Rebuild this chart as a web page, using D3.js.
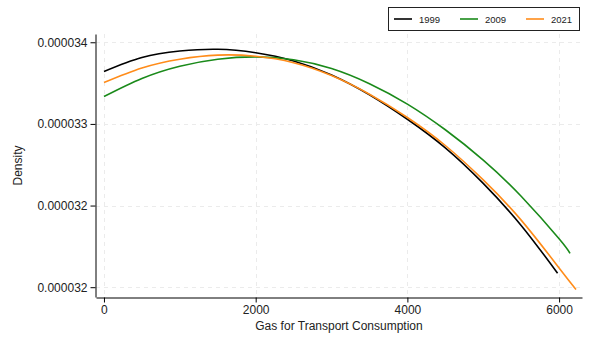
<!DOCTYPE html>
<html>
<head>
<meta charset="utf-8">
<script src="https://cdn.jsdelivr.net/npm/d3@7"></script>
<style>
  html, body { margin: 0; padding: 0; background: #fff; }
  svg { display: block; font-family: "Liberation Sans", Arial, Helvetica, sans-serif; }
</style>
</head>
<body>
<svg id="chart" width="605" height="339"></svg>
<script>
// Kernel density estimates of gas-for-transport consumption, by year
const years = ["1999", "2009", "2021"];
const colors = ["#000000", "#1a8a1a", "#ff8c1a"];

const x1999 = [0, 500, 1000, 1500, 2000, 2500, 3000, 3500, 4000, 4500, 5000, 5500, 5980];
const d1999 = [3.3450e-5, 3.3570e-5, 3.3625e-5, 3.3640e-5, 3.3610e-5, 3.3540e-5, 3.3420e-5,
               3.3250e-5, 3.3040e-5, 3.2795e-5, 3.2490e-5, 3.2130e-5, 3.1720e-5];

const x2009 = [0, 500, 1000, 1500, 2000, 2500, 3000, 3500, 4000, 4500, 5000, 5500, 6000, 6144];
const d2009 = [3.3235e-5, 3.3390e-5, 3.3495e-5, 3.3555e-5, 3.3575e-5, 3.3550e-5, 3.3475e-5,
               3.3345e-5, 3.3170e-5, 3.2950e-5, 3.2690e-5, 3.2380e-5, 3.2015e-5, 3.1890e-5];

const x2021 = [0, 500, 1000, 1500, 2000, 2500, 3000, 3500, 4000, 4500, 5000, 5500, 6000, 6223];
const d2021 = [3.3355e-5, 3.3480e-5, 3.3555e-5, 3.3590e-5, 3.3580e-5, 3.3525e-5, 3.3415e-5,
               3.3255e-5, 3.3055e-5, 3.2815e-5, 3.2520e-5, 3.2175e-5, 3.1765e-5, 3.1580e-5];

const xTicks = [0, 2000, 4000, 6000];
const yTicks = [3.37e-5, 3.30e-5, 3.23e-5, 3.16e-5];

const xTitle = "Gas for Transport Consumption";
const yTitle = "Density";

const seriesX = [x1999, x2009, x2021];
const seriesY = [d1999, d2009, d2021];

const svg = d3.select("#chart");

const plot = { left: 96, right: 582, top: 34, bottom: 297 };

const x = d3.scaleLinear().domain([-105, 6302]).range([plot.left, plot.right]);
const y = d3.scaleLinear().domain([3.1516e-5, 3.3771e-5]).range([plot.bottom, plot.top]);

// dashed grid
const grid = svg.append("g").attr("stroke", "#ebebeb").attr("stroke-width", 1)
  .attr("stroke-dasharray", "4,4");
grid.selectAll("line.gx").data(xTicks).join("line")
  .attr("x1", d => Math.round(x(d)) + 0.5).attr("x2", d => Math.round(x(d)) + 0.5)
  .attr("y1", plot.top).attr("y2", plot.bottom);
grid.selectAll("line.gy").data(yTicks).join("line")
  .attr("y1", d => Math.round(y(d)) + 0.5).attr("y2", d => Math.round(y(d)) + 0.5)
  .attr("x1", plot.left).attr("x2", plot.right);

// density curves
const line = d3.line().x(d => x(d[0])).y(d => y(d[1])).curve(d3.curveNatural);
seriesX.forEach((xs, i) => {
  const pts = xs.map((v, j) => [v, seriesY[i][j]]);
  svg.append("path").datum(pts)
    .attr("fill", "none")
    .attr("stroke", colors[i])
    .attr("stroke-width", 1.6)
    .attr("d", line);
});

// axes
const xAxis = d3.axisBottom(x).tickValues(xTicks).tickFormat(d3.format("d"))
  .tickSizeInner(5).tickSizeOuter(0).tickPadding(3);
const yAxis = d3.axisLeft(y).tickValues(yTicks).tickFormat(d3.format(".6f"))
  .tickSizeInner(5).tickSizeOuter(0).tickPadding(3);

const gx = svg.append("g").attr("transform", `translate(0,${plot.bottom + 0.5})`).call(xAxis);
const gy = svg.append("g").attr("transform", `translate(${plot.left - 0.5},0)`).call(yAxis);
[gx, gy].forEach(g => {
  g.select(".domain").attr("stroke", "#000").attr("stroke-width", 1);
  g.selectAll(".tick line").attr("stroke", "#000");
  g.selectAll(".tick text").attr("fill", "#222").style("font-size", "12px")
    .style("font-family", "'Liberation Sans', Arial, Helvetica, sans-serif");
});

// axis titles
svg.append("text")
  .attr("x", (plot.left + plot.right) / 2).attr("y", 330)
  .attr("text-anchor", "middle").attr("fill", "#222").style("font-size", "12px")
  .text(xTitle);
svg.append("text")
  .attr("transform", `translate(22,${(plot.top + plot.bottom) / 2}) rotate(-90)`)
  .attr("text-anchor", "middle").attr("fill", "#222").style("font-size", "12px")
  .text(yTitle);

// legend
const legend = svg.append("g");
legend.append("rect")
  .attr("x", 388.5).attr("y", 7.5).attr("width", 191).attr("height", 23)
  .attr("fill", "#fff").attr("stroke", "#222").attr("stroke-width", 1);
const legendX = d3.scalePoint().domain(years).range([394, 526]);
const items = legend.selectAll("g.item").data(years).join("g")
  .attr("transform", d => `translate(${legendX(d)},19)`);
items.append("line")
  .attr("x1", 0).attr("x2", 18).attr("y1", 0).attr("y2", 0)
  .attr("stroke", (d, i) => colors[i]).attr("stroke-width", 1.6);
items.append("text")
  .attr("x", 25).attr("y", 3.5).attr("fill", "#222").style("font-size", "9.5px")
  .text(d => d);
</script>
</body>
</html>
